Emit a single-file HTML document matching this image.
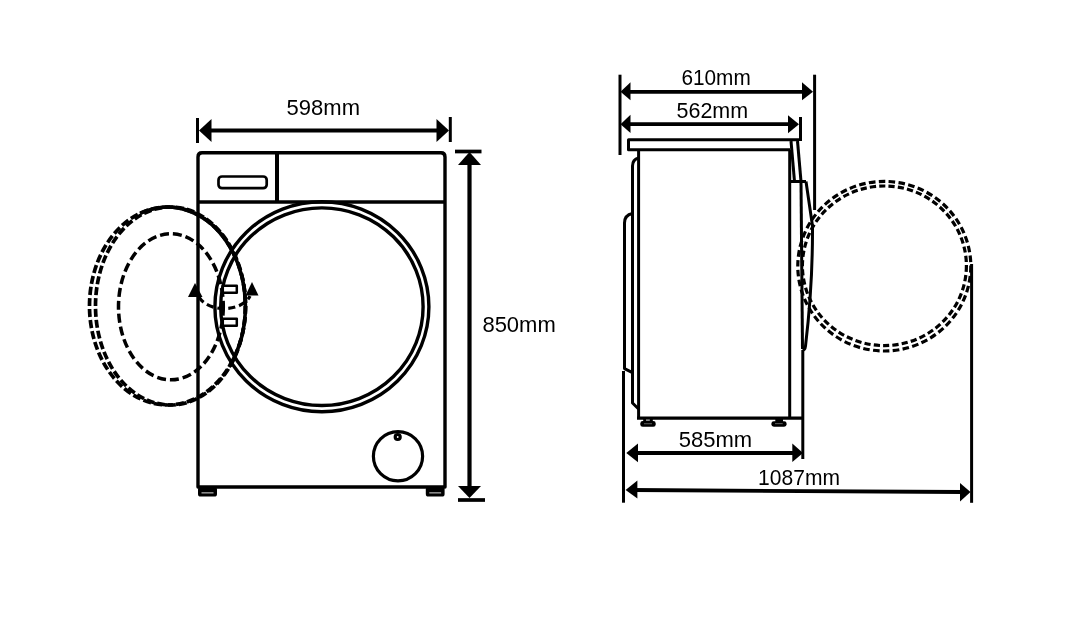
<!DOCTYPE html>
<html>
<head>
<meta charset="utf-8">
<style>
html,body{margin:0;padding:0;background:#fff;width:1069px;height:621px;overflow:hidden;}
svg{display:block;}
text{font-family:"Liberation Sans", sans-serif;font-size:22px;fill:#000;}
</style>
</head>
<body>
<svg width="1069" height="621" viewBox="0 0 1069 621">
<defs><filter id="bl" x="-2%" y="-2%" width="104%" height="104%"><feGaussianBlur stdDeviation="0.45"/></filter></defs>
<rect x="0" y="0" width="1069" height="621" fill="#fff"/>
<g filter="url(#bl)">
<g fill="none" stroke="#000" stroke-linecap="butt" stroke-linejoin="round">

<!-- ===== FRONT VIEW ===== -->
<!-- 598 dimension -->
<line x1="197.5" y1="118" x2="197.5" y2="143" stroke-width="3"/>
<line x1="450.3" y1="117" x2="450.3" y2="142" stroke-width="3"/>
<line x1="205" y1="130.5" x2="442" y2="130.5" stroke-width="4.2"/>
<polygon points="199,130.5 211.5,119 211.5,142" fill="#000" stroke="none"/>
<polygon points="449,130.5 436.5,119 436.5,142" fill="#000" stroke="none"/>

<!-- open door (dashed) -->
<ellipse cx="167.5" cy="306" rx="78" ry="99" stroke-width="3.7" pathLength="550" stroke-dasharray="8 3"/>
<ellipse cx="170.5" cy="306" rx="75" ry="99" stroke-width="3.7" pathLength="550" stroke-dasharray="8 3"/>
<path d="M140,213.4 A78,99 0 0,1 230.1,365" stroke-width="3.6"/>
<ellipse cx="170.9" cy="306.8" rx="52.4" ry="73" stroke-width="3.5" stroke-dasharray="9 4"/>

<!-- body -->
<path d="M198,487 V157 Q198,152.8 202,152.8 H441 Q445,152.8 445,157 V487 H198 Z" stroke-width="3.4"/>
<line x1="198" y1="202" x2="445" y2="202" stroke-width="3.4"/>
<line x1="277" y1="153" x2="277" y2="202" stroke-width="4"/>
<rect x="218.5" y="176.5" width="48.2" height="11.7" rx="3.5" stroke-width="2.7"/>

<!-- door rings -->
<ellipse cx="321.9" cy="306.7" rx="101.2" ry="98.8" stroke-width="3.4"/>
<ellipse cx="321.9" cy="306.7" rx="107" ry="105" stroke-width="3.4"/>

<!-- hinges -->
<rect x="222.8" y="285.7" width="14" height="7" stroke-width="2.5" fill="#fff"/>
<rect x="222.8" y="318.7" width="14" height="7" stroke-width="2.5" fill="#fff"/>

<!-- swing arc + arrows -->
<path d="M199,297 A27,18 0 0,0 250,296" stroke-width="3.2" stroke-dasharray="7 4"/>
<polygon points="195,283 188,297 202.5,297" fill="#000" stroke="none"/>
<polygon points="252,282 245.5,295.5 258.5,295.5" fill="#000" stroke="none"/>

<!-- knob -->
<circle cx="398" cy="456.3" r="24.6" stroke-width="3.2"/>
<circle cx="397.7" cy="437" r="2.5" stroke-width="3.2"/>

<!-- feet -->
<g stroke="none">
<rect x="198" y="487" width="19" height="9.5" rx="2.6" fill="#000"/>
<rect x="201.5" y="492" width="12" height="1.6" fill="#888"/>
<rect x="425.8" y="487" width="18.8" height="9.5" rx="2.6" fill="#000"/>
<rect x="429.3" y="492" width="11.8" height="1.6" fill="#888"/>
</g>

<!-- 850 dimension -->
<line x1="469.5" y1="160" x2="469.5" y2="490" stroke-width="4.2"/>
<line x1="455" y1="151.5" x2="481.5" y2="151.5" stroke-width="3.7"/>
<line x1="458" y1="500" x2="485" y2="500" stroke-width="3.7"/>
<polygon points="469.5,152 458,165 481,165" fill="#000" stroke="none"/>
<polygon points="469.5,498 458,486 481,486" fill="#000" stroke="none"/>

<!-- ===== SIDE VIEW ===== -->
<!-- 610 / 562 dims -->
<line x1="620" y1="74.7" x2="620" y2="155" stroke-width="3"/>
<line x1="814.6" y1="74.7" x2="814.6" y2="210" stroke-width="3"/>
<line x1="628" y1="91.8" x2="806" y2="91.8" stroke-width="3.8"/>
<polygon points="620.5,91.8 630.5,82.3 630.5,100.3" fill="#000" stroke="none"/>
<polygon points="813,91.8 802,82.3 802,100.3" fill="#000" stroke="none"/>
<line x1="800.5" y1="117" x2="800.5" y2="141" stroke-width="3"/>
<line x1="628" y1="124.2" x2="792" y2="124.2" stroke-width="3.8"/>
<polygon points="620.5,124.2 630.5,114.8 630.5,133" fill="#000" stroke="none"/>
<polygon points="799,124.2 788,115.2 788,133.2" fill="#000" stroke="none"/>

<!-- top board -->
<path d="M799,139.8 H628.5 V149.8 H790" stroke-width="3"/>
<!-- body -->
<line x1="638.6" y1="149.8" x2="638.6" y2="419" stroke-width="3"/>
<line x1="637" y1="418.2" x2="804" y2="418.2" stroke-width="3.2"/>
<line x1="789.7" y1="149.8" x2="789.7" y2="418" stroke-width="3"/>
<!-- back panels -->
<path d="M638.6,158 Q632.5,159.5 632.5,166 V403 L638.6,409" stroke-width="3"/>
<path d="M632.5,213.5 Q624.5,215 624.5,223 V368.6 L632.5,372.7" stroke-width="3"/>
<!-- feet -->
<g stroke="none">
<rect x="640.3" y="421" width="15.4" height="5.8" rx="2.4" fill="#000"/>
<rect x="643.2" y="418" width="9.6" height="4" fill="#000"/>
<rect x="646" y="419.6" width="3.8" height="1" fill="#ddd"/>
<rect x="644" y="423.3" width="8" height="0.9" fill="#666"/>
<rect x="771.4" y="421.2" width="15.2" height="5.5" rx="2.4" fill="#000"/>
<rect x="775.3" y="418" width="7.7" height="4" fill="#000"/>
<rect x="775" y="423.2" width="7.7" height="0.9" fill="#666"/>
</g>
<!-- door panel -->
<path d="M791,141 L794.5,181.5" stroke-width="3"/>
<path d="M797.5,141 L801,181.5" stroke-width="3"/>
<path d="M789.7,181.5 H806" stroke-width="3"/>
<path d="M801,181.5 L802.5,349" stroke-width="3"/>
<path d="M806,181.5 L812.5,226 Q812.8,285 805.5,346 Q805,350 802.5,350" stroke-width="3"/>
<line x1="802.8" y1="350" x2="802.8" y2="459" stroke-width="3"/>

<!-- open door side dashed circles -->
<ellipse cx="884.3" cy="266.2" rx="86.5" ry="84.8" stroke-width="3.2" pathLength="530" stroke-dasharray="6.5 3.3"/>
<ellipse cx="884.4" cy="265.8" rx="82" ry="79.8" stroke-width="3.2" pathLength="530" stroke-dasharray="6.5 3.3"/>

<!-- 585 / 1087 dims -->
<line x1="623.5" y1="371" x2="623.5" y2="502.7" stroke-width="3"/>
<line x1="971.6" y1="264" x2="971.6" y2="502.8" stroke-width="3"/>
<line x1="634" y1="453" x2="796" y2="453" stroke-width="3.8"/>
<polygon points="626.3,453 638,443.4 638,462.3" fill="#000" stroke="none"/>
<polygon points="803,453 792.3,443.6 792.3,462" fill="#000" stroke="none"/>
<line x1="632" y1="490" x2="962" y2="492" stroke-width="3.8"/>
<polygon points="625.6,490 637.4,480.5 637.4,498.5" fill="#000" stroke="none"/>
<polygon points="970.5,492 960,483 960,501.5" fill="#000" stroke="none"/>
</g>

<!-- texts -->
<text transform="translate(286.6,115)">598mm</text>
<text transform="translate(482.4,332)">850mm</text>
<text transform="translate(681.4,85) scale(0.946,1)">610mm</text>
<text transform="translate(676.5,118) scale(0.977,1)">562mm</text>
<text transform="translate(678.8,447)">585mm</text>
<text transform="translate(758.1,485) scale(0.956,1)">1087mm</text>
</g>
</svg>
</body>
</html>
